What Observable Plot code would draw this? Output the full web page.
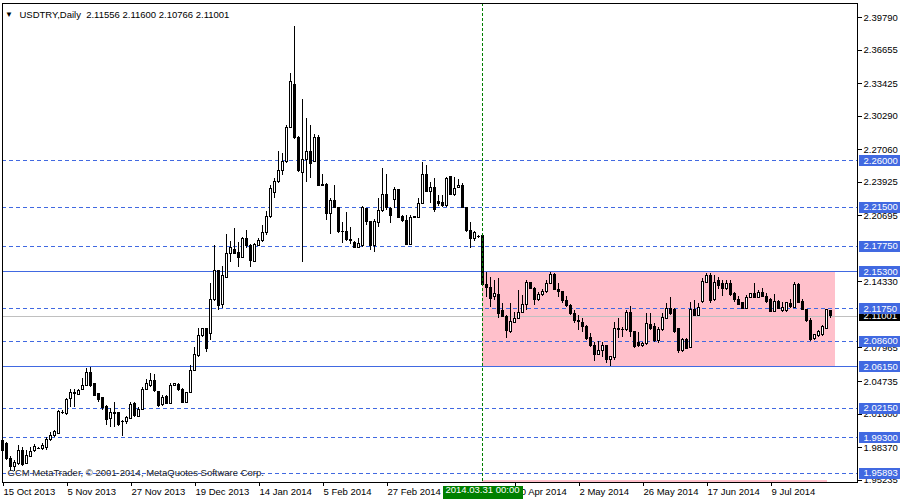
<!DOCTYPE html>
<html>
<head>
<meta charset="utf-8">
<script src="https://cdn.jsdelivr.net/npm/d3@7"></script>
<script src="https://cdn.jsdelivr.net/npm/@observablehq/plot@0.6"></script>
<style>
  html, body { margin: 0; padding: 0; background: #fff; }
  svg { display: block; }
  svg line, svg rect, svg path { shape-rendering: crispEdges; }
</style>
</head>
<body>
<div id="chart"></div>
<script>
// ---- Data (USDTRY daily, bar index 0 = 15 Oct 2013) ----
const open = [
1.9809,1.9867,1.9729,1.9655,1.9681,1.9809,1.9681,1.9751,1.9803,1.9825,
1.9822,1.9835,1.9912,1.9944,1.9970,2.0169,2.0156,2.0307,2.0361,2.0345,
2.0393,2.0435,2.0554,2.0451,2.0355,2.0313,2.0226,2.0114,2.0169,2.0169,
2.0082,2.0082,2.0114,2.0258,2.0130,2.0201,2.0393,2.0435,2.0483,2.0368,
2.0249,2.0323,2.0258,2.0432,2.0441,2.0393,2.0265,2.0361,2.0579,2.0718,
2.0907,2.0978,2.0933,2.1260,2.1533,2.1210,2.1469,2.1703,2.1741,2.1709,
2.1664,2.1847,2.1783,2.1629,2.1783,2.1828,2.1905,2.2062,2.2290,2.2393,
2.2502,2.2586,2.2913,2.3330,2.2823,2.2483,2.2602,2.2688,2.2586,2.2823,
2.2367,2.2367,2.2085,2.2207,2.2143,2.1918,2.1918,2.1838,2.1809,2.1761,
2.1783,2.2136,2.2008,2.1783,2.2001,2.2120,2.2271,2.2130,2.2226,2.2313,
2.2053,2.2024,2.1790,2.2053,2.2046,2.2184,2.2464,2.2297,2.2338,2.2200,
2.2191,2.2168,2.2441,2.2265,2.2338,2.2361,2.2146,2.1921,2.1847,2.1863,
2.1870,2.1404,2.1372,2.1286,2.1311,2.1148,2.1099,2.0948,2.1038,2.1077,
2.1135,2.1209,2.1424,2.1366,2.1260,2.1302,2.1334,2.1414,2.1504,2.1356,
2.1334,2.1253,2.1205,2.1119,2.1055,2.1035,2.1003,2.0894,2.0817,2.0727,
2.0766,2.0811,2.0682,2.0701,2.0981,2.0965,2.0965,2.1135,2.0949,2.0843,
2.0811,2.0837,2.1019,2.0997,2.0859,2.0965,2.1077,2.1174,2.1164,2.0981,
2.0772,2.0869,2.0798,2.1164,2.1109,2.1238,2.1421,2.1485,2.1260,2.1440,
2.1408,2.1366,2.1414,2.1312,2.1260,2.1228,2.1174,2.1279,2.1312,2.1279,
2.1324,2.1292,2.1254,2.1141,2.1238,2.1151,2.1151,2.1222,2.1183,2.1405,
2.1238,2.1164,2.1061,2.0885,2.0907,2.0917,2.0981,2.11556];
const high = [
1.9931,1.9889,1.9751,1.9713,1.9857,1.9841,1.9809,1.9835,1.9864,1.9835,
1.9873,1.9937,1.9986,2.0002,2.0194,2.0194,2.0307,2.0393,2.0393,2.0393,
2.0499,2.0595,2.0612,2.0457,2.0361,2.0323,2.0242,2.0210,2.0274,2.0178,
2.0098,2.0136,2.0274,2.0274,2.0226,2.0412,2.0490,2.0547,2.0541,2.0380,
2.0339,2.0339,2.0451,2.0451,2.0457,2.0403,2.0371,2.0628,2.0804,2.0981,
2.0987,2.0984,2.1414,2.1783,2.1545,2.1580,2.1886,2.1822,2.1944,2.1815,
2.1863,2.1928,2.1790,2.1799,2.1847,2.1976,2.2111,2.2361,2.2431,2.2688,
2.2666,2.2939,2.3436,2.3892,2.2836,2.3189,2.3009,2.2939,2.2849,2.2842,
2.2464,2.2377,2.2239,2.2361,2.2152,2.2001,2.2104,2.1960,2.1822,2.1847,
2.2162,2.2143,2.2014,2.2034,2.2233,2.2521,2.2464,2.2152,2.2345,2.2322,
2.2072,2.2072,2.2072,2.2059,2.2239,2.2586,2.2550,2.2393,2.2425,2.2265,
2.2265,2.2441,2.2448,2.2441,2.2416,2.2383,2.2152,2.2008,2.1918,2.1879,
2.1876,2.1526,2.1478,2.1446,2.1469,2.1228,2.1106,2.1228,2.1141,2.1350,
2.1302,2.1446,2.1430,2.1375,2.1334,2.1356,2.1446,2.1526,2.1517,2.1414,
2.1340,2.1292,2.1215,2.1157,2.1109,2.1077,2.1013,2.0932,2.0852,2.0862,
2.0852,2.0817,2.0714,2.1045,2.1077,2.0997,2.1157,2.1196,2.0955,2.0949,
2.0853,2.1125,2.1125,2.1029,2.0997,2.1125,2.1222,2.1286,2.1174,2.0987,
2.0885,2.0885,2.1238,2.1254,2.1222,2.1462,2.1517,2.1517,2.1495,2.1479,
2.1446,2.1446,2.1446,2.1334,2.1292,2.1235,2.1302,2.1324,2.1414,2.1350,
2.1366,2.1318,2.1270,2.1312,2.1254,2.1238,2.1238,2.1260,2.1430,2.1421,
2.1260,2.1170,2.1077,2.0926,2.0965,2.1013,2.1164,2.11600];
const low = [
1.9793,1.9713,1.9610,1.9610,1.9665,1.9655,1.9674,1.9738,1.9793,1.9815,
1.9809,1.9809,1.9899,1.9931,1.9963,2.0156,2.0146,2.0220,2.0220,2.0339,
2.0387,2.0425,2.0419,2.0329,2.0274,2.0194,2.0050,2.0034,2.0034,2.0040,
1.9944,2.0059,2.0104,2.0130,2.0124,2.0194,2.0387,2.0419,2.0371,2.0220,
2.0233,2.0249,2.0252,2.0425,2.0380,2.0258,2.0258,2.0355,2.0573,2.0708,
2.0901,2.0756,2.0869,2.1240,2.1160,2.1180,2.1462,2.1616,2.1696,2.1575,
2.1655,2.1751,2.1575,2.1623,2.1777,2.1815,2.1879,2.2046,2.2233,2.2377,
2.2457,2.2570,2.2907,2.2804,2.2489,2.1623,2.2393,2.2425,2.2579,2.2354,
2.2354,2.2024,2.1886,2.2136,2.1895,2.1799,2.1822,2.1790,2.1751,2.1751,
2.1767,2.1976,2.1735,2.1712,2.1960,2.2104,2.2120,2.1992,2.2136,2.2040,
2.2008,2.1783,2.1783,2.2046,2.2040,2.2175,2.2290,2.2184,2.2104,2.2159,
2.2152,2.2152,2.2265,2.2255,2.2332,2.2136,2.1912,2.1751,2.1825,2.1847,
2.1398,2.1286,2.1189,2.1253,2.1077,2.1087,2.0884,2.0932,2.1029,2.1071,
2.1125,2.1157,2.1356,2.1205,2.1247,2.1292,2.1324,2.1408,2.1350,2.1286,
2.1221,2.1189,2.1109,2.1029,2.0965,2.0949,2.0868,2.0804,2.0669,2.0721,
2.0708,2.0644,2.0618,2.0676,2.0884,2.0900,2.0958,2.0900,2.0788,2.0798,
2.0804,2.0820,2.0965,2.0853,2.0843,2.0958,2.1068,2.1109,2.0939,2.0740,
2.0756,2.0779,2.0792,2.1103,2.1103,2.1228,2.1414,2.1228,2.1247,2.1357,
2.1292,2.1350,2.1292,2.1238,2.1206,2.1164,2.1164,2.1270,2.1270,2.1270,
2.1279,2.1228,2.1135,2.1135,2.1164,2.1141,2.1141,2.1174,2.1174,2.1222,
2.1158,2.1045,2.0862,2.0869,2.0894,2.0907,2.0971,2.10766];
const close = [
1.9905,1.9729,1.9649,1.9687,1.9809,1.9665,1.9761,1.9799,1.9841,1.9822,
1.9851,1.9912,1.9950,1.9992,2.0178,2.0175,2.0291,2.0361,2.0355,2.0380,
2.0435,2.0554,2.0435,2.0335,2.0291,2.0220,2.0104,2.0169,2.0162,2.0050,
2.0088,2.0120,2.0249,2.0146,2.0201,2.0393,2.0451,2.0483,2.0380,2.0242,
2.0316,2.0258,2.0428,2.0445,2.0387,2.0265,2.0361,2.0579,2.0724,2.0907,
2.0978,2.0789,2.1260,2.1542,2.1200,2.1494,2.1703,2.1761,2.1703,2.1664,
2.1847,2.1783,2.1632,2.1790,2.1828,2.1905,2.2062,2.2329,2.2399,2.2502,
2.2586,2.2919,2.3362,2.2817,2.2505,2.2602,2.2688,2.2570,2.2823,2.2361,
2.2361,2.2085,2.2207,2.2143,2.1918,2.1912,2.1838,2.1831,2.1761,2.1793,
2.2143,2.2008,2.1783,2.2008,2.2120,2.2271,2.2143,2.2072,2.2313,2.2046,
2.2021,2.1790,2.2050,2.2050,2.2184,2.2464,2.2297,2.2338,2.2127,2.2184,
2.2168,2.2425,2.2271,2.2329,2.2361,2.2146,2.1921,2.1847,2.1905,2.1867,
2.1404,2.1375,2.1270,2.1318,2.1119,2.1093,2.0958,2.1042,2.1077,2.1135,
2.1209,2.1424,2.1366,2.1260,2.1302,2.1340,2.1414,2.1504,2.1356,2.1334,
2.1247,2.1196,2.1119,2.1055,2.1042,2.0997,2.0884,2.0814,2.0727,2.0772,
2.0811,2.0682,2.0708,2.0981,2.0974,2.0971,2.1135,2.0949,2.0804,2.0820,
2.0837,2.1023,2.0981,2.0859,2.0965,2.1087,2.1174,2.1125,2.0949,2.0772,
2.0869,2.0788,2.1164,2.1109,2.1180,2.1430,2.1485,2.1247,2.1421,2.1398,
2.1366,2.1414,2.1302,2.1254,2.1215,2.1174,2.1279,2.1312,2.1279,2.1328,
2.1292,2.1238,2.1141,2.1238,2.1174,2.1183,2.1228,2.1190,2.1405,2.1228,
2.1164,2.1055,2.0869,2.0917,2.0949,2.0997,2.1158,2.11001];

// Bottom axis labels (bar index -> date); the label under the marker box is hidden in the source
const dateTickIdx = [0,16,32,48,64,80,96,128,144,160,176,192];
const dateTickLabels = ["15 Oct 2013","5 Nov 2013","27 Nov 2013","19 Dec 2013","14 Jan 2014","5 Feb 2014","27 Feb 2014","10 Apr 2014","2 May 2014","26 May 2014","17 Jun 2014","9 Jul 2014"];

// Right price axis ticks (those fully hidden behind level labels omitted)
const priceTicks = [2.39790,2.36655,2.33425,2.30290,2.27060,2.23925,2.20695,2.14330,2.07965,2.04735,2.01600,1.98370,1.95235];

// Horizontal levels
const dashedLevels = [2.26000,2.21500,2.17750,2.11750,2.08600,2.02150,1.99300,1.95893];
const solidLevels = [2.15300,2.06150];
const lastPrice = [2.11001];

// Vertical marker
const markerIdx = [120];
const markerLabel = ["2014.03.31 00:00"];

// Rectangle zones (bar index start/end, price top/bottom)
const zoneStart = [120, 120];
const zoneEnd = [208.25, 206.2];
const zoneTop = [2.15300, 1.95180];
const zoneBottom = [2.06150, 1.94000];

const titleText = ["USDTRY,Daily\u00a0 2.11556 2.11600 2.10766 2.11001"];
const copyText = ["GCM MetaTrader, \u00a9 2001-2014, MetaQuotes Software Corp."];

// ---- Build tables ----
const bars = open.map((o, i) => ({i, o, h: high[i], l: low[i], c: close[i]}));
const upBars = bars.filter(d => d.c >= d.o);
const downBars = bars.filter(d => d.c < d.o);
const zones = zoneStart.map((s, k) => ({s, e: zoneEnd[k], t: zoneTop[k], b: zoneBottom[k]}));
const allLevels = [...dashedLevels, ...solidLevels];

const BLUE = "#4169E1";
const boxSymbol = (x0, y0, w, h) => ({ draw(ctx) { ctx.rect(x0, y0, w, h); } });

const chart = Plot.plot({
  width: 900,
  height: 500,
  marginLeft: 2,
  marginRight: 43,
  marginTop: 3,
  marginBottom: 18,
  style: {fontFamily: '"Liberation Sans", Arial, sans-serif', fontSize: "9.5px", background: "#fff", color: "#000"},
  x: {domain: [0, 213.75], axis: null},
  y: {domain: [1.9501, 2.41137], axis: null},
  marks: [
    Plot.rect(zones, {x1: "s", x2: "e", y1: "b", y2: "t", fill: "#FFC0CB", clip: true}),
    Plot.ruleY(dashedLevels, {stroke: BLUE, strokeDasharray: "4,3"}),
    Plot.ruleY(solidLevels, {stroke: BLUE}),
    Plot.ruleY(lastPrice, {stroke: "#C0C0C0"}),
    Plot.ruleX(bars, {x: "i", y1: "l", y2: "h", stroke: "#000"}),
    Plot.rect(upBars, {x1: d => d.i - 0.25, x2: d => d.i + 0.25, y1: "o", y2: "c", fill: "#fff", stroke: "#000"}),
    Plot.rect(downBars, {x1: d => d.i - 0.25, x2: d => d.i + 0.25, y1: "o", y2: "c", fill: "#000", stroke: "#000"}),
    Plot.ruleX(markerIdx, {stroke: "#008000", strokeDasharray: "3,2"}),
    Plot.frame({stroke: "#000"}),
    Plot.axisY({anchor: "right", ticks: priceTicks, tickSize: 4, tickPadding: 2, tickFormat: d => d.toFixed(5)}),
    Plot.dot(lastPrice, {y: d => d, frameAnchor: "right", symbol: boxSymbol(1.5, -5, 42, 10), fill: "#000"}),
    Plot.text(lastPrice, {y: d => d, frameAnchor: "right", textAnchor: "start", dx: 6, text: d => d.toFixed(5), fill: "#fff"}),
    Plot.dot(allLevels, {y: d => d, frameAnchor: "right", symbol: boxSymbol(1.5, -5.5, 42, 11), fill: BLUE}),
    Plot.text(allLevels, {y: d => d, frameAnchor: "right", textAnchor: "start", dx: 6, text: d => d.toFixed(5), fill: "#fff"}),
    Plot.axisX({anchor: "bottom", ticks: dateTickIdx, tickSize: 4, tickPadding: 1.5, textAnchor: "start", dx: 1,
      tickFormat: d => dateTickLabels[dateTickIdx.indexOf(d)]}),
    Plot.dot(markerIdx, {x: d => d, frameAnchor: "bottom", symbol: boxSymbol(-40, 3.5, 80, 13), fill: "#008000"}),
    Plot.text(markerIdx, {x: d => d, frameAnchor: "bottom", dy: 10, text: (d, k) => markerLabel[k], fill: "#fff"}),
    Plot.text(["\u25BC"], {frameAnchor: "top-left", dx: 6.5, dy: 8, text: d => d, fontSize: 8, fill: "#000", textAnchor: "middle"}),
    Plot.text(titleText, {frameAnchor: "top-left", dx: 17, dy: 8, text: d => d, textAnchor: "start", fill: "#000"}),
    Plot.text(copyText, {frameAnchor: "bottom-left", dx: 5, dy: -6.7, text: d => d, textAnchor: "start", fill: "#222"})
  ]
});
document.getElementById("chart").appendChild(chart);
</script>
</body>
</html>
